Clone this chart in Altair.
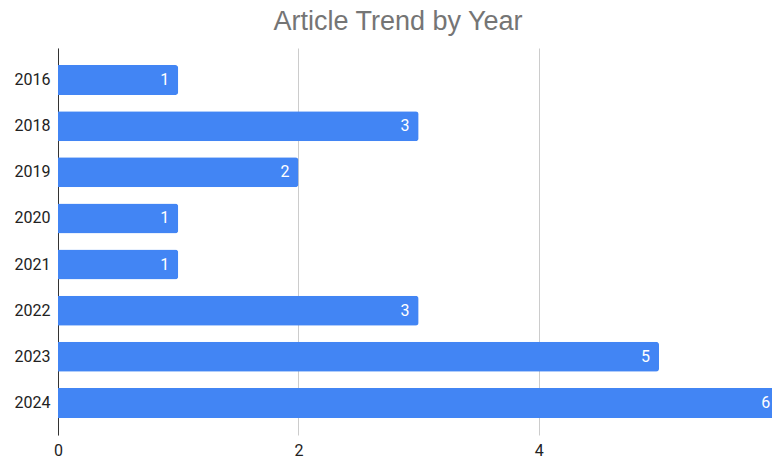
import altair as alt
import pandas as pd

years = ["2016", "2018", "2019", "2020", "2021", "2022", "2023", "2024"]
counts = [1, 3, 2, 1, 1, 3, 5, 6]
x_ticks = [0, 2, 4, 6]

df = pd.DataFrame({"year": years, "count": counts})

base = alt.Chart(df).encode(
    y=alt.Y("year:N", sort=years, title=None,
            scale=alt.Scale(paddingInner=0.35, paddingOuter=0.37),
            axis=alt.Axis(ticks=False, domain=True, domainColor="#333333",
                          labelFont="Roboto", labelFontSize=16, labelColor="#222222",
                          labelPadding=8, grid=False)),
)

bars = base.mark_bar(color="#4285F4", cornerRadiusEnd=3).encode(
    x=alt.X("count:Q", title=None,
            scale=alt.Scale(domain=[0, 5.94], nice=False, zero=True),
            axis=alt.Axis(values=x_ticks, format="d", ticks=False, domain=False,
                          labelFont="Roboto", labelFontSize=16, labelColor="#222222",
                          labelPadding=7, grid=True, gridColor="#cccccc",
                          labelFlush=False)),
)

labels = base.mark_text(align="right", dx=-9, color="white",
                        font="Roboto", fontSize=16, baseline="middle").encode(
    x=alt.X("count:Q"),
    text=alt.Text("count:Q"),
)

chart = (bars + labels).properties(
    width=714, height=387,
    title=alt.TitleParams("Article Trend by Year", font="Liberation Sans",
                          fontSize=27, fontWeight="normal", color="#757575",
                          anchor="middle", dx=-17, offset=12),
    autosize=alt.AutoSizeParams(type="none"),
    padding={"left": 50, "top": 40, "right": 0, "bottom": 23},
).configure_view(stroke=None)

chart.save("out.html", embed_options={"renderer": "svg", "actions": False})
